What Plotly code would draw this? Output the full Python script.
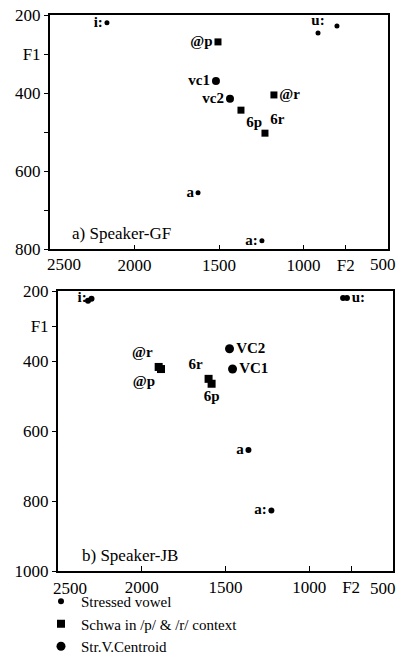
import plotly.graph_objects as go

# ---------------- Panel a) Speaker-GF ----------------
a_str_f2 = [2163, 914, 802, 1624, 1246]
a_str_f1 = [220, 246, 228, 656, 779]
a_str_lab = ["i:", "u:", "", "a", "a:"]
a_str_pos = ["middle left", "top center", "middle left", "middle left", "middle left"]

a_sch_f2 = [1506, 1175, 1370, 1228]
a_sch_f1 = [269, 405, 444, 503]
a_sch_lab = ["@p", "@r", "6p", "6r"]
a_sch_pos = ["middle left", "middle right", "bottom right", "top right"]

a_cen_f2 = [1518, 1435]
a_cen_f1 = [369, 415]
a_cen_lab = ["vc1", "vc2"]
a_cen_pos = ["middle left", "middle left"]

# ---------------- Panel b) Speaker-JB ----------------
b_str_f2 = [2321, 2300, 798, 775, 1363, 1226]
b_str_f1 = [228, 222, 220, 220, 654, 827]
b_str_lab = ["", "i:", "", "u:", "a", "a:"]
b_str_pos = ["middle left", "middle left", "middle left", "middle right", "middle left", "middle left"]

b_sch_f2 = [1899, 1885, 1601, 1583]
b_sch_f1 = [417, 423, 451, 465]
b_sch_lab = ["@r", "@p", "6r", "6p"]
b_sch_pos = ["top left", "bottom left", "top left", "bottom center"]

b_cen_f2 = [1476, 1458]
b_cen_f1 = [365, 423]
b_cen_lab = ["VC2", "VC1"]
b_cen_pos = ["middle right", "middle right"]

x_tickvals = [2500, 2000, 1500, 1000, 750, 500]
x_ticktext = ["2500", "2000", "1500", "1000", "F2", "500"]
ya_tickvals = [200, 300, 400, 500, 600, 700, 800]
ya_ticktext = ["200", "F1", "400", "", "600", "", "800"]
yb_tickvals = [200, 300, 400, 600, 800, 1000]
yb_ticktext = ["200", "F1", "400", "600", "800", "1000"]

legend_names = ["Stressed vowel", "Schwa in /p/ & /r/ context", "Str.V.Centroid"]

SERIF = "Liberation Serif, Times New Roman, serif"
LABEL_FONT = dict(family=SERIF, size=15, color="black", weight="bold")
TICK_FONT = dict(family=SERIF, size=17, color="black")

W, H = 399, 661

def dom_x(l, r):
    return [l / W, r / W]
def dom_y(t, b):
    return [1 - b / H, 1 - t / H]
def px(x):
    return x / W
def py(y):
    return 1 - y / H

# the two end labels of each F2 axis are drawn as separate texts, nudged
# inwards as in the original (the left one overlaps the lowest F1 label)
inner_ticktext = [""] + x_ticktext[1:-1] + [""]

fig = go.Figure()

def add(f2, f1, lab, pos, symbol, size, name, xa, ya, showlegend):
    fig.add_trace(go.Scatter(
        x=f2, y=f1, mode="markers+text", text=lab, textposition=pos,
        textfont=LABEL_FONT, name=name, showlegend=showlegend,
        marker=dict(symbol=symbol, size=size, color="black"),
        xaxis=xa, yaxis=ya, cliponaxis=False))

add(a_str_f2, a_str_f1, a_str_lab, a_str_pos, "circle", 5, legend_names[0], "x", "y", False)
add(a_sch_f2, a_sch_f1, a_sch_lab, a_sch_pos, "square", 7, legend_names[1], "x", "y", False)
add(a_cen_f2, a_cen_f1, a_cen_lab, a_cen_pos, "circle", 8, legend_names[2], "x", "y", False)
add(b_str_f2, b_str_f1, b_str_lab, b_str_pos, "circle", 6, legend_names[0], "x2", "y2", True)
add(b_sch_f2, b_sch_f1, b_sch_lab, b_sch_pos, "square", 8, legend_names[1], "x2", "y2", True)
add(b_cen_f2, b_cen_f1, b_cen_lab, b_cen_pos, "circle", 9, legend_names[2], "x2", "y2", True)

axis_common = dict(showline=True, linewidth=2, linecolor="black", mirror=True,
                   showgrid=False, zeroline=False, tickcolor="black", automargin=False,
                   tickfont=TICK_FONT)

def end_label(text, x, y, anchor):
    return dict(text=text, xref="paper", yref="paper", x=px(x), y=py(y),
                xanchor=anchor, yanchor="middle", showarrow=False, font=TICK_FONT)

fig.update_layout(
    width=W, height=H, autosize=False,
    margin=dict(l=0, r=0, t=0, b=0, pad=0, autoexpand=False),
    paper_bgcolor="white", plot_bgcolor="white",
    font=dict(family=SERIF, color="black"),
    xaxis=dict(domain=dom_x(50, 388), range=[2500, 500], anchor="y",
               tickmode="array", tickvals=x_tickvals, ticktext=inner_ticktext,
               ticks="inside", ticklen=4, **axis_common),
    yaxis=dict(domain=dom_y(15, 249), range=[800, 200], anchor="x",
               tickmode="array", tickvals=ya_tickvals, ticktext=ya_ticktext,
               ticks="outside", ticklen=4, ticklabeloverflow="allow", **axis_common),
    xaxis2=dict(domain=dom_x(58, 393), range=[2500, 500], anchor="y2",
                tickmode="array", tickvals=x_tickvals, ticktext=inner_ticktext,
                ticks="inside", ticklen=5, **axis_common),
    yaxis2=dict(domain=dom_y(291, 571), range=[1000, 200], anchor="x2",
                tickmode="array", tickvals=yb_tickvals, ticktext=yb_ticktext,
                ticks="outside", ticklen=4, **axis_common),
    legend=dict(x=px(41), y=py(585), xanchor="left", yanchor="top",
                bgcolor="rgba(0,0,0,0)", font=dict(family=SERIF, size=15, color="black"),
                itemwidth=30, tracegroupgap=0),
    annotations=[
        dict(text="a) Speaker-GF", xref="paper", yref="paper", x=px(70), y=py(233),
             xanchor="left", yanchor="middle", showarrow=False,
             font=dict(family=SERIF, size=17, color="black")),
        dict(text="b) Speaker-JB", xref="paper", yref="paper", x=px(80), y=py(555),
             xanchor="left", yanchor="middle", showarrow=False,
             font=dict(family=SERIF, size=17, color="black")),
        end_label(x_ticktext[0], 64, 265, "center"),
        end_label(x_ticktext[-1], 398, 265, "right"),
        end_label(x_ticktext[0], 70, 588, "center"),
        end_label(x_ticktext[-1], 398, 588, "right"),
    ],
)

# remove the browser's default 8px page margin so the 399x661 figure fills the window
fig.write_html("out.html",
               config={"displayModeBar": False},
               post_script="document.body.style.margin='0';"
                           "document.body.style.overflow='hidden';")
